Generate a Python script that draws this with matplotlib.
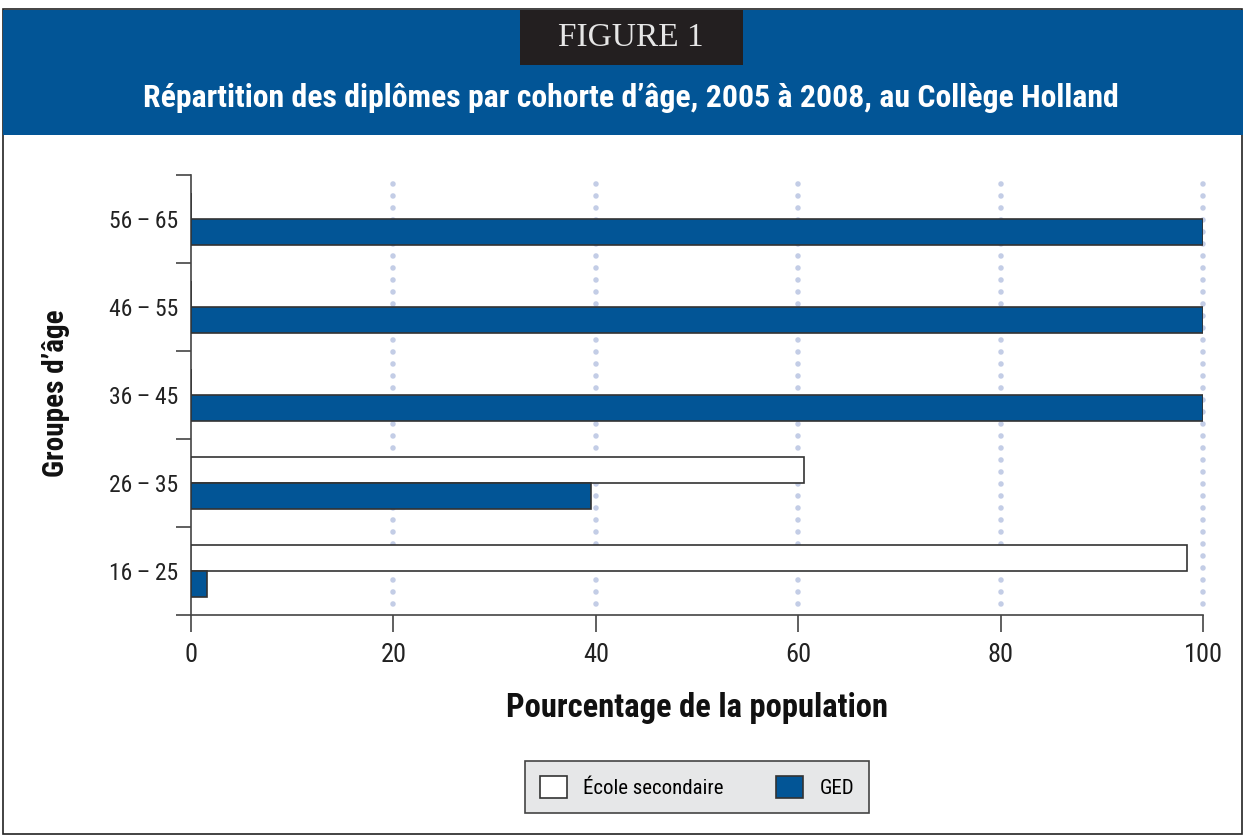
import matplotlib
matplotlib.use("Agg")
import matplotlib.pyplot as plt
from matplotlib import font_manager
from matplotlib.patches import Rectangle, Patch
import numpy as np

# ---- data ----
categories = ["16\u2009\u2013\u200925", "26\u2009\u2013\u200935", "36\u2009\u2013\u200945",
              "46\u2009\u2013\u200955", "56\u2009\u2013\u200965"]
ecole_secondaire = [98.4, 60.6, 0, 0, 0]
ged = [1.6, 39.5, 100, 100, 100]
x_ticks = [0, 20, 40, 60, 80, 100]
series_labels = ["École secondaire", "GED"]
title = "Répartition des diplômes par cohorte d\u2019âge, 2005 à 2008, au Collège Holland"
fig_label = "FIGURE 1"
xlabel = "Pourcentage de la population"
ylabel = "Groupes d\u2019âge"

names = {f.name for f in font_manager.fontManager.ttflist}
cond = "Roboto Condensed" if "Roboto Condensed" in names else "Liberation Sans"
serif = "Liberation Serif"

BLUE = "#025596"
DARK = "#231f20"
GRID = "#c3cde6"

W, H = 1243, 835
fig = plt.figure(figsize=(W / 100, H / 100), dpi=100)

def fx(px):
    return px / W

def fy(py):
    return 1 - py / H

# frame and header
fig.patches.append(Rectangle((fx(3), fy(834)), fx(1239), 834 / H - 9 / H, transform=fig.transFigure,
                             facecolor="white", edgecolor="#222222", lw=1.2, zorder=-3))
fig.patches.append(Rectangle((fx(3), fy(135)), fx(1240), (135 - 10) / H, transform=fig.transFigure,
                             facecolor=BLUE, edgecolor="none", zorder=-2))
fig.patches.append(Rectangle((fx(520), fy(65)), fx(223), (65 - 10) / H, transform=fig.transFigure,
                             facecolor=DARK, edgecolor="none", zorder=-1))
fig.text(fx(631), fy(38), fig_label, family=serif, fontsize=24, color="#e6e6e6",
         ha="center", va="center", zorder=3)
fig.text(fx(631), fy(98), title, family=cond, fontweight="bold", fontsize=22.9, color="white",
         ha="center", va="center", zorder=3)

ax = fig.add_axes([fx(191), fy(615), fx(1203 - 191), (615 - 175) / H])
ax.set_zorder(5)
ax.patch.set_alpha(0)
y = np.arange(len(categories))
h = 0.3
ax.barh(y + h / 2, ecole_secondaire, height=h, color="white", edgecolor="#333333", lw=1.2, zorder=3)
ax.barh(y - h / 2, ged, height=h, color=BLUE, edgecolor="#333333", lw=1.2, zorder=3)

ax.set_xlim(0, 100)
ax.set_ylim(-0.5, len(categories) - 0.5)
ax.set_xticks(x_ticks)
ax.set_xticklabels([str(v) for v in x_ticks], family=cond, fontsize=19, color="#222222")
ax.set_yticks(np.arange(len(categories) + 1) - 0.5)
ax.set_yticklabels([])
ax.set_yticks(y, minor=True)
ax.set_yticklabels(categories, minor=True, family=[cond, "DejaVu Sans"], fontsize=17, color="#222222")
ax.tick_params(axis="y", which="minor", length=0, pad=9)
ax.tick_params(axis="y", which="major", length=11, width=1.2, color="#444444")
ax.tick_params(axis="x", length=12, width=1.2, color="#444444", pad=8)

for s in ["top", "right"]:
    ax.spines[s].set_visible(False)
for s in ["left", "bottom"]:
    ax.spines[s].set_color("#444444")
    ax.spines[s].set_linewidth(1.2)

for xv in x_ticks[1:]:
    ax.plot([xv, xv], [-0.38, 4.47], color=GRID, lw=4, ls=(0, (0.01, 2.15)),
            dash_capstyle="round", zorder=1, clip_on=False)

ax.set_xlabel(xlabel, family=cond, fontweight="bold", fontsize=23.5, color="#111111", labelpad=18)
fig.text(fx(56), fy(393), ylabel, family=cond, fontweight="bold", fontsize=21, color="#111111",
         rotation=90, ha="center", va="center")

handles = [Patch(facecolor="white", edgecolor="#333333", lw=1.2),
           Patch(facecolor=BLUE, edgecolor="#333333", lw=1.2)]
leg = fig.legend(handles, series_labels, loc="center", bbox_to_anchor=(fx(697), fy(787)),
                 ncol=2, frameon=True, fancybox=False, prop={"family": cond, "size": 15},
                 handlelength=1.3, handleheight=1.3, columnspacing=2.5, handletextpad=0.8,
                 borderpad=0.7)
leg.get_frame().set_facecolor("#e6e7e8")
leg.get_frame().set_edgecolor("#444444")
leg.get_frame().set_linewidth(1.2)
leg.get_frame().set_alpha(1)

fig.savefig("out.png", dpi=100)
